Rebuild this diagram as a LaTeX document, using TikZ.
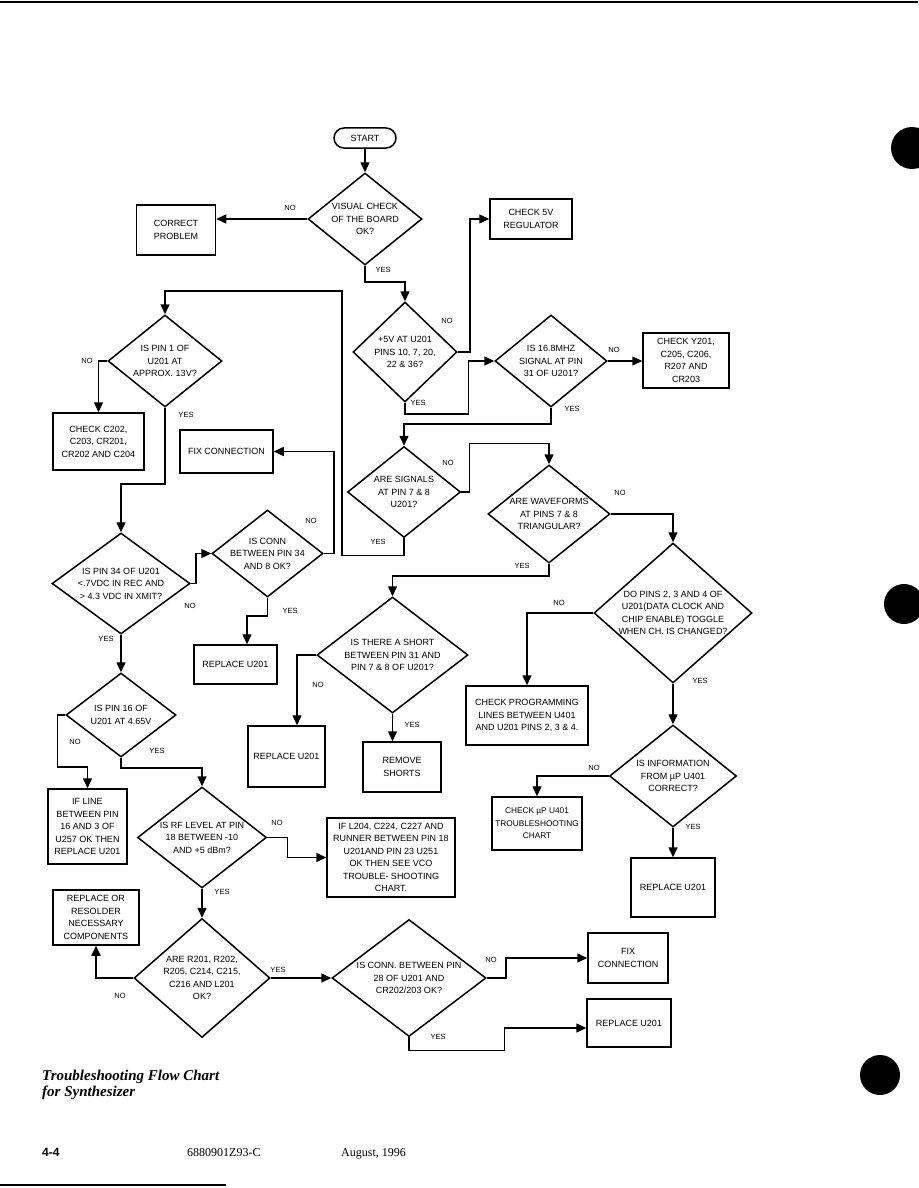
\documentclass[tikz,border=0pt]{standalone}
\usepackage{fontspec}
\setmainfont{Liberation Serif}
\newfontfamily\chartfont{Liberation Sans}
\usetikzlibrary{arrows.meta,shapes.geometric}

\begin{document}
\begin{tikzpicture}[
    x=1pt, y=-1pt,
    box/.style={
      draw=black, line width=1.5pt, align=center, inner sep=1pt,
      font=\chartfont\fontsize{9}{12.5}\selectfont
    },
    decision/.style={
      draw=black, line width=1.5pt, diamond, align=center, inner sep=-8pt,
      font=\chartfont\fontsize{9}{12.5}\selectfont
    },
    tag/.style={font=\chartfont\fontsize{7.5}{8}\selectfont, inner sep=0pt},
    arrow/.style={-{Triangle[length=10pt,width=9pt]},line width=1.5pt,draw=black}
  ]
    \useasboundingbox (0,0) rectangle (918,1188);

    \node[box, rounded corners=10pt, minimum width=62pt, minimum height=20pt] (start) at (365,138) {START};
    \node[decision, minimum width=114pt, minimum height=92pt] (visual) at (365,219) {VISUAL CHECK\\OF THE BOARD\\OK?};
    \node[box, minimum width=79pt, minimum height=50pt] (correct) at (176,230) {CORRECT\\PROBLEM};
    \node[box, minimum width=82pt, minimum height=40pt] (reg) at (531,219) {CHECK 5V\\REGULATOR};
    \node[decision, minimum width=104pt, minimum height=100pt] (fivev) at (405,352) {+5V AT U201\\PINS 10, 7, 20,\\22 \& 36?};
    \node[decision, minimum width=112pt, minimum height=92pt] (osc) at (551,361) {IS 16.8MHZ\\SIGNAL AT PIN\\31 OF U201?};
    \node[box, minimum width=86pt, minimum height=55pt] (chky) at (686,360.5) {CHECK Y201,\\C205, C206,\\R207 AND\\CR203};
    \node[decision, minimum width=113pt, minimum height=91pt] (sig) at (404,492) {ARE SIGNALS\\AT PIN 7 \& 8\\U201?};
    \node[decision, minimum width=122pt, minimum height=98pt] (wave) at (549,514) {ARE WAVEFORMS\\AT PINS 7 \& 8\\TRIANGULAR?};
    \node[decision, minimum width=114pt, minimum height=92pt] (pin1) at (165,361) {IS PIN 1 OF\\U201 AT\\APPROX. 13V?};
    \node[box, minimum width=91pt, minimum height=57pt] (chkc) at (98.5,441.5) {CHECK C202,\\C203, CR201,\\CR202 AND C204};
    \node[box, minimum width=93pt, minimum height=43pt] (fixa) at (226.5,451.5) {FIX CONNECTION};
    \node[decision, minimum width=138pt, minimum height=101pt] (pin34) at (121,583.5) {IS PIN 34 OF U201\\<.7VDC IN REC AND\\> 4.3 VDC IN XMIT?};
    \node[decision, minimum width=111pt, minimum height=87pt] (conn34) at (267.5,553.5) {IS CONN\\BETWEEN PIN 34\\AND 8 OK?};
    \node[box, minimum width=83pt, minimum height=39pt] (repa) at (235.5,664.5) {REPLACE U201};
    \node[decision, minimum width=110pt, minimum height=84pt] (pin16) at (121,715) {IS PIN 16 OF\\U201 AT 4.65V};
    \node[box, minimum width=79pt, minimum height=75pt] (ifline) at (87.5,826.5) {IF LINE\\BETWEEN PIN\\16 AND 3 OF\\U257 OK THEN\\REPLACE U201};
    \node[decision, minimum width=129pt, minimum height=101pt] (rf) at (202,837.5) {IS RF LEVEL AT PIN\\18 BETWEEN -10\\AND +5 dBm?};
    \node[box, minimum width=128pt, minimum height=79pt] (vco) at (391,857.5) {IF L204, C224, C227 AND\\RUNNER BETWEEN PIN 18\\U201AND PIN 23 U251\\OK THEN SEE VCO\\TROUBLE- SHOOTING\\CHART.};
    \node[box, minimum width=86pt, minimum height=55pt] (resolder) at (96,917.5) {REPLACE OR\\RESOLDER\\NECESSARY\\COMPONENTS};
    \node[decision, minimum width=136pt, minimum height=119pt] (parts) at (202,978) {ARE R201, R202,\\R205, C214, C215,\\C216 AND L201\\OK?};
    \node[decision, minimum width=154pt, minimum height=117pt] (conn28) at (409,978) {IS CONN. BETWEEN PIN\\28 OF U201 AND\\CR202/203 OK?};
    \node[box, minimum width=80pt, minimum height=50pt] (fixb) at (628,958) {FIX\\CONNECTION};
    \node[box, minimum width=84pt, minimum height=48pt] (repd) at (629,1023) {REPLACE U201};
    \node[decision, minimum width=151pt, minimum height=116pt] (short) at (392.5,655) {IS THERE A SHORT\\BETWEEN PIN 31 AND\\PIN 7 \& 8 OF U201?};
    \node[box, minimum width=77pt, minimum height=61pt] (repb) at (286.5,756.5) {REPLACE U201};
    \node[box, minimum width=78pt, minimum height=50pt] (remove) at (402,767) {REMOVE\\SHORTS};
    \node[decision, minimum width=158pt, minimum height=140pt] (toggle) at (673,613) {DO PINS 2, 3 AND 4 OF\\U201(DATA CLOCK AND\\CHIP ENABLE) TOGGLE\\WHEN CH. IS CHANGED?};
    \node[box, minimum width=122pt, minimum height=59pt] (prog) at (527,715.5) {CHECK PROGRAMMING\\LINES BETWEEN U401\\AND U201 PINS 2, 3 \& 4.};
    \node[decision, minimum width=127pt, minimum height=102pt] (info) at (673,776) {IS INFORMATION\\FROM µP U401\\CORRECT?};
    \node[box, minimum width=90pt, minimum height=53pt, font=\chartfont\fontsize{8.3}{12.5}\selectfont] (chkup) at (537,823.5) {CHECK µP U401\\TROUBLESHOOTING\\CHART};
    \node[box, minimum width=84pt, minimum height=59pt] (repc) at (673,887.5) {REPLACE U201};
    \coordinate (back) at (342,291);

    \draw[arrow] (start.south) -- (visual.north);
    \draw[arrow] (visual.west) -- (visual.west -| correct.east);
    \draw[arrow] (visual.south) -- ++(0,16) -| (fivev.north);
    \draw[arrow] (fivev.east) -- ++(12,0) |- (reg.west);
    \draw[arrow] (fivev.south) -- ++(0,11) -| ([xshift=-26pt]osc.west) -- (osc.west);
    \draw[arrow] (osc.east) -- (osc.east -| chky.west);
    \draw[arrow] (osc.south) -- ++(0,16) -| (sig.north);
    \draw[arrow] (sig.east) -- ++(8,0) |- ([yshift=21pt]wave.north) -- (wave.north);
    \draw[arrow] (sig.south) -- ++(0,17) -| (back) -| (pin1.north);
    \draw[arrow] (wave.east) -| (toggle.north);
    \draw[arrow] (wave.south) -- ++(0,12) -| (short.north);
    \draw[arrow] (pin1.west) -| (chkc.north);
    \draw[arrow] (pin1.south) -- ++(0,76) -| (pin34.north);
    \draw[arrow] (pin34.east) -- ++(5,0) |- (conn34.west);
    \draw[arrow] (conn34.east) -- ++(10,0) |- (fixa.east);
    \draw[arrow] (conn34.south) -- ++(0,18) -| ([xshift=11.5pt]repa.north);
    \draw[arrow] (pin34.south) -- (pin16.north);
    \draw[arrow] (pin16.west) -- ++(-8,0) -- ++(0,52) -| (ifline.north);
    \draw[arrow] (pin16.south) -- ++(0,10) -| (rf.north);
    \draw[arrow] (rf.east) -- ++(20,0) |- (vco.west);
    \draw[arrow] (rf.south) -- (parts.north);
    \draw[arrow] (parts.west) -| (resolder.south);
    \draw[arrow] (parts.east) -- (conn28.west);
    \draw[arrow] (conn28.east) -- ++(19,0) |- (fixb.west);
    \draw[arrow] (conn28.south) -- ++(0,13) -| ([xshift=-82pt,yshift=-5pt]repd.west) -- ([yshift=-5pt]repd.west);
    \draw[arrow] (short.west) -| ([xshift=10.5pt]repb.north);
    \draw[arrow] (short.south) -- (short.south |- remove.north);
    \draw[arrow] (toggle.west) -| (prog.north);
    \draw[arrow] (toggle.south) -- (info.north);
    \draw[arrow] (info.west) -| (chkup.north);
    \draw[arrow] (info.south) -- (repc.north);

    \node[tag] (visualno) at (290,208) {NO};
    \node[tag] (visualyes) at (383,270) {YES};
    \node[tag] (fivevno) at (447,321) {NO};
    \node[tag] (fivevyes) at (418,403) {YES};
    \node[tag] (oscno) at (614,350) {NO};
    \node[tag] (oscyes) at (572,409) {YES};
    \node[tag] (signo) at (448,463) {NO};
    \node[tag] (sigyes) at (378,542) {YES};
    \node[tag] (waveno) at (620,493) {NO};
    \node[tag] (waveyes) at (522,566) {YES};
    \node[tag] (pin1no) at (87,361) {NO};
    \node[tag] (pin1yes) at (186,415) {YES};
    \node[tag] (conn34no) at (311,521) {NO};
    \node[tag] (pin34no) at (190,606) {NO};
    \node[tag] (conn34yes) at (290,611) {YES};
    \node[tag] (pin34yes) at (106,639) {YES};
    \node[tag] (shortno) at (318,685) {NO};
    \node[tag] (shortyes) at (412,725) {YES};
    \node[tag] (toggleno) at (559,603) {NO};
    \node[tag] (toggleyes) at (700,681) {YES};
    \node[tag] (pin16no) at (75,742) {NO};
    \node[tag] (pin16yes) at (157,751) {YES};
    \node[tag] (rfno) at (277,823) {NO};
    \node[tag] (rfyes) at (222,892) {YES};
    \node[tag] (infono) at (594,768) {NO};
    \node[tag] (infoyes) at (693,827) {YES};
    \node[tag] (partsyes) at (278,970) {YES};
    \node[tag] (partsno) at (120,996) {NO};
    \node[tag] (conn28no) at (491,960) {NO};
    \node[tag] (conn28yes) at (438,1037) {YES};

    \node[anchor=base west, inner sep=0pt, align=left, font=\bfseries\itshape\fontsize{15}{16}\selectfont] (title) at (42,1096) {Troubleshooting Flow Chart\\for Synthesizer};
    \node[anchor=base west, inner sep=0pt, font=\chartfont\bfseries\fontsize{12}{14}\selectfont] (page) at (42,1156) {4-4};
    \node[anchor=base west, inner sep=0pt, font=\fontsize{12}{13}\selectfont] (docno) at (187,1156) {6880901Z93-C};
    \node[anchor=base west, inner sep=0pt, font=\fontsize{12}{13}\selectfont] (date) at (341,1156) {August, 1996};

    \draw[line width=2.5pt] (0,2) -- (918,2);
    \draw[line width=2.5pt] (0,1185) -- (226,1185);
    \fill (912,148) circle[radius=21];
    \fill (904,604) circle[radius=20];
    \fill (880,1075) circle[radius=20];
  \end{tikzpicture}
\end{document}
